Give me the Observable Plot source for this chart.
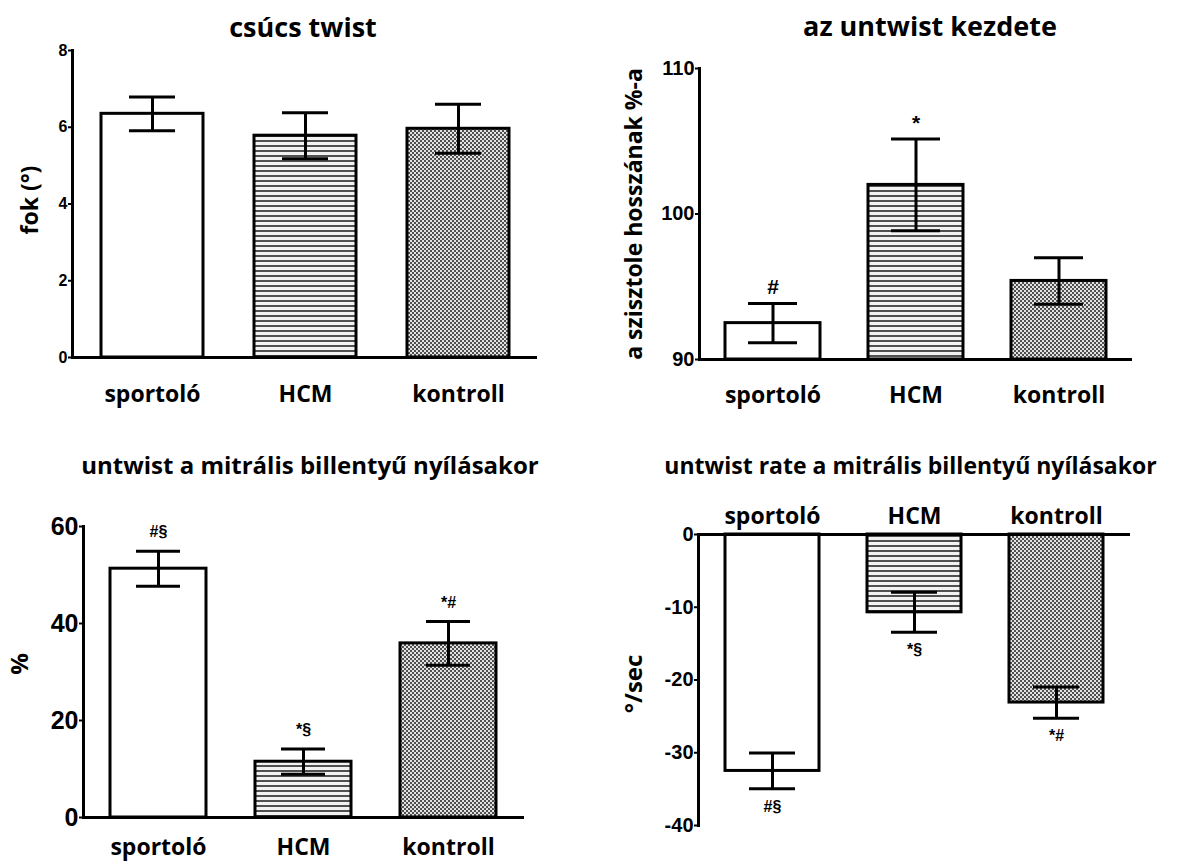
<!DOCTYPE html>
<html>
<head>
<meta charset="utf-8">
<script src="https://cdn.jsdelivr.net/npm/d3@7"></script>
<script src="https://cdn.jsdelivr.net/npm/@observablehq/plot@0.6"></script>
<style>
  html, body { margin: 0; padding: 0; background: #fff; }
  body { width: 1179px; height: 868px; position: relative; overflow: hidden; }
  .panel { position: absolute; }
</style>
</head>
<body>
<svg width="0" height="0" style="position:absolute">
  <defs>
    <pattern id="stripes" width="8" height="5" patternUnits="userSpaceOnUse">
      <rect width="8" height="5" fill="#f2f2f2"/>
      <rect y="0" width="8" height="2" fill="#505050"/>
    </pattern>
    <pattern id="dots" width="4" height="4" patternUnits="userSpaceOnUse">
      <rect width="4" height="4" fill="#e2e2e2"/>
      <rect x="0" y="0" width="2" height="2" fill="#505050"/>
      <rect x="2" y="2" width="2" height="2" fill="#505050"/>
    </pattern>
  </defs>
</svg>
<div id="p1" class="panel" style="left:0px;top:0px"></div>
<div id="p2" class="panel" style="left:580px;top:0px"></div>
<div id="p3" class="panel" style="left:0px;top:440px"></div>
<div id="p4" class="panel" style="left:580px;top:440px"></div>
<script>
// ---- data ----
const categories = ["sportoló", "HCM", "kontroll"];

const peakTwistTitle = "csúcs twist";
const peakTwistLabel = "fok (°)";
const peakTwistMean = [6.35, 5.78, 5.96];
const peakTwistSE = [0.44, 0.60, 0.64];
const peakTwistTicks = [0, 2, 4, 6, 8];

const onsetTitle = "az untwist kezdete";
const onsetLabel = "a szisztole hosszának %-a";
const onsetMean = [92.5, 102.0, 95.4];
const onsetSE = [1.35, 3.15, 1.6];
const onsetMarks = ["#", "*", ""];
const onsetTicks = [90, 100, 110];

const mvoTitle = "untwist a mitrális billentyű nyílásakor";
const mvoLabel = "%";
const mvoMean = [51.3, 11.5, 35.9];
const mvoSE = [3.6, 2.6, 4.5];
const mvoMarks = ["#§", "*§", "*#"];
const mvoTicks = [0, 20, 40, 60];

const rateTitle = "untwist rate a mitrális billentyű nyílásakor";
const rateLabel = "°/sec";
const rateMean = [-32.5, -10.7, -23.1];
const rateSE = [2.45, 2.75, 2.15];
const rateMarks = ["#§", "*§", "*#"];
const rateTicks = [0, -10, -20, -30, -40];

// ---- styling ----
const patternFill = {"sportoló": "#ffffff", "HCM": "url(#stripes)", "kontroll": "url(#dots)"};
const textFont = "'Open Sans', 'DejaVu Sans', sans-serif";
const numFont = "'Liberation Sans', Arial, sans-serif";

function panel(o) {
  const rows = categories.map((c, i) => ({
    group: c, mean: o.mean[i], se: o.se[i], mark: o.marks ? o.marks[i] : ""
  }));
  const base = o.base;
  const errEnd = d => o.below ? d.mean - d.se : d.mean + d.se;
  return Plot.plot({
    width: o.width, height: o.height,
    marginTop: o.mt, marginRight: o.mr, marginBottom: o.mb, marginLeft: o.ml,
    style: {fontFamily: numFont, background: "transparent", overflow: "visible", color: "#000"},
    x: {domain: categories, paddingInner: 0.335, paddingOuter: 0.18, align: 0.5},
    y: {domain: d3.extent(o.ticks)},
    marks: [
      Plot.barY(rows, {x: "group", y1: () => base, y2: "mean",
        fill: d => patternFill[d.group], stroke: "#000", strokeWidth: 3}),
      Plot.ruleX(rows, {x: "group", y1: d => d.mean - d.se, y2: d => d.mean + d.se,
        stroke: "#000", strokeWidth: 3}),
      Plot.tickY(rows, {x: "group", y: d => d.mean + d.se, stroke: "#000", strokeWidth: 3,
        insetLeft: o.cap, insetRight: o.cap}),
      Plot.tickY(rows, {x: "group", y: d => d.mean - d.se, stroke: "#000", strokeWidth: 3,
        insetLeft: o.cap, insetRight: o.cap}),
      Plot.ruleY([base], {stroke: "#000", strokeWidth: 3}),
      Plot.frame({anchor: "left", stroke: "#000", strokeWidth: 3}),
      Plot.axisY({ticks: o.ticks, tickFormat: d => String(d), tickSize: 4, tickPadding: 1,
        strokeWidth: 2, fontSize: o.tickFont, fontWeight: "bold", fontFamily: numFont, label: null}),
      Plot.axisX({anchor: o.xAnchor, tickSize: 0, tickPadding: o.catPad, fontSize: o.catFont,
        fontWeight: "bold", fontFamily: textFont, label: null}),
      Plot.text(rows.filter(d => d.mark), {x: "group", y: errEnd, text: "mark",
        dy: o.markDy, fontSize: o.markFont, fontWeight: "bold", fontFamily: numFont}),
      Plot.text([o.title], {frameAnchor: "top", textAnchor: "middle", lineAnchor: "middle",
        dx: o.titleDx, dy: o.titleDy,
        fontSize: o.titleFont, fontWeight: "bold", fontFamily: textFont}),
      Plot.text([o.ylabel], {frameAnchor: "left", textAnchor: "middle", lineAnchor: "middle",
        rotate: -90, dx: o.ylabelDx, dy: o.ylabelDy,
        fontSize: o.ylabelFont, fontWeight: "bold", fontFamily: textFont})
    ]
  });
}

document.getElementById("p1").append(panel({
  width: 580, height: 430, mt: 50, mr: 43, mb: 73, ml: 72,
  title: peakTwistTitle, ylabel: peakTwistLabel,
  mean: peakTwistMean, se: peakTwistSE, marks: null, base: 0, ticks: peakTwistTicks,
  cap: 28, tickFont: 16, catFont: 23, catPad: 28, xAnchor: "bottom",
  titleFont: 27, titleDx: -2, titleDy: -22,
  ylabelFont: 23, ylabelDx: -42, ylabelDy: -4,
  markDy: -16, markFont: 18
}));

document.getElementById("p2").append(panel({
  width: 599, height: 430, mt: 68, mr: 47, mb: 71, ml: 119,
  title: onsetTitle, ylabel: onsetLabel,
  mean: onsetMean, se: onsetSE, marks: onsetMarks, base: 90, ticks: onsetTicks,
  cap: 23, tickFont: 20, catFont: 23, catPad: 27, xAnchor: "bottom",
  titleFont: 27, titleDx: 14, titleDy: -41,
  ylabelFont: 23, ylabelDx: -65, ylabelDy: 0,
  markDy: -16, markFont: 21
}));

document.getElementById("p3").append(panel({
  width: 580, height: 428, mt: 86, mr: 56, mb: 51, ml: 83,
  title: mvoTitle, ylabel: mvoLabel,
  mean: mvoMean, se: mvoSE, marks: mvoMarks, base: 0, ticks: mvoTicks,
  cap: 26, tickFont: 25, catFont: 23, catPad: 21, xAnchor: "bottom",
  titleFont: 24, titleDx: 6, titleDy: -60,
  ylabelFont: 24, ylabelDx: -63, ylabelDy: -8,
  markDy: -19, markFont: 16
}));

document.getElementById("p4").append(panel({
  width: 599, height: 428, mt: 94, mr: 49, mb: 43, ml: 118,
  title: rateTitle, ylabel: rateLabel,
  mean: rateMean, se: rateSE, marks: rateMarks, base: 0, ticks: rateTicks, below: true,
  cap: 24, tickFont: 20, catFont: 23, catPad: 11, xAnchor: "top",
  titleFont: 23, titleDx: -4, titleDy: -68,
  ylabelFont: 24, ylabelDx: -64, ylabelDy: 4,
  markDy: 18, markFont: 16
}));
</script>
</body>
</html>
